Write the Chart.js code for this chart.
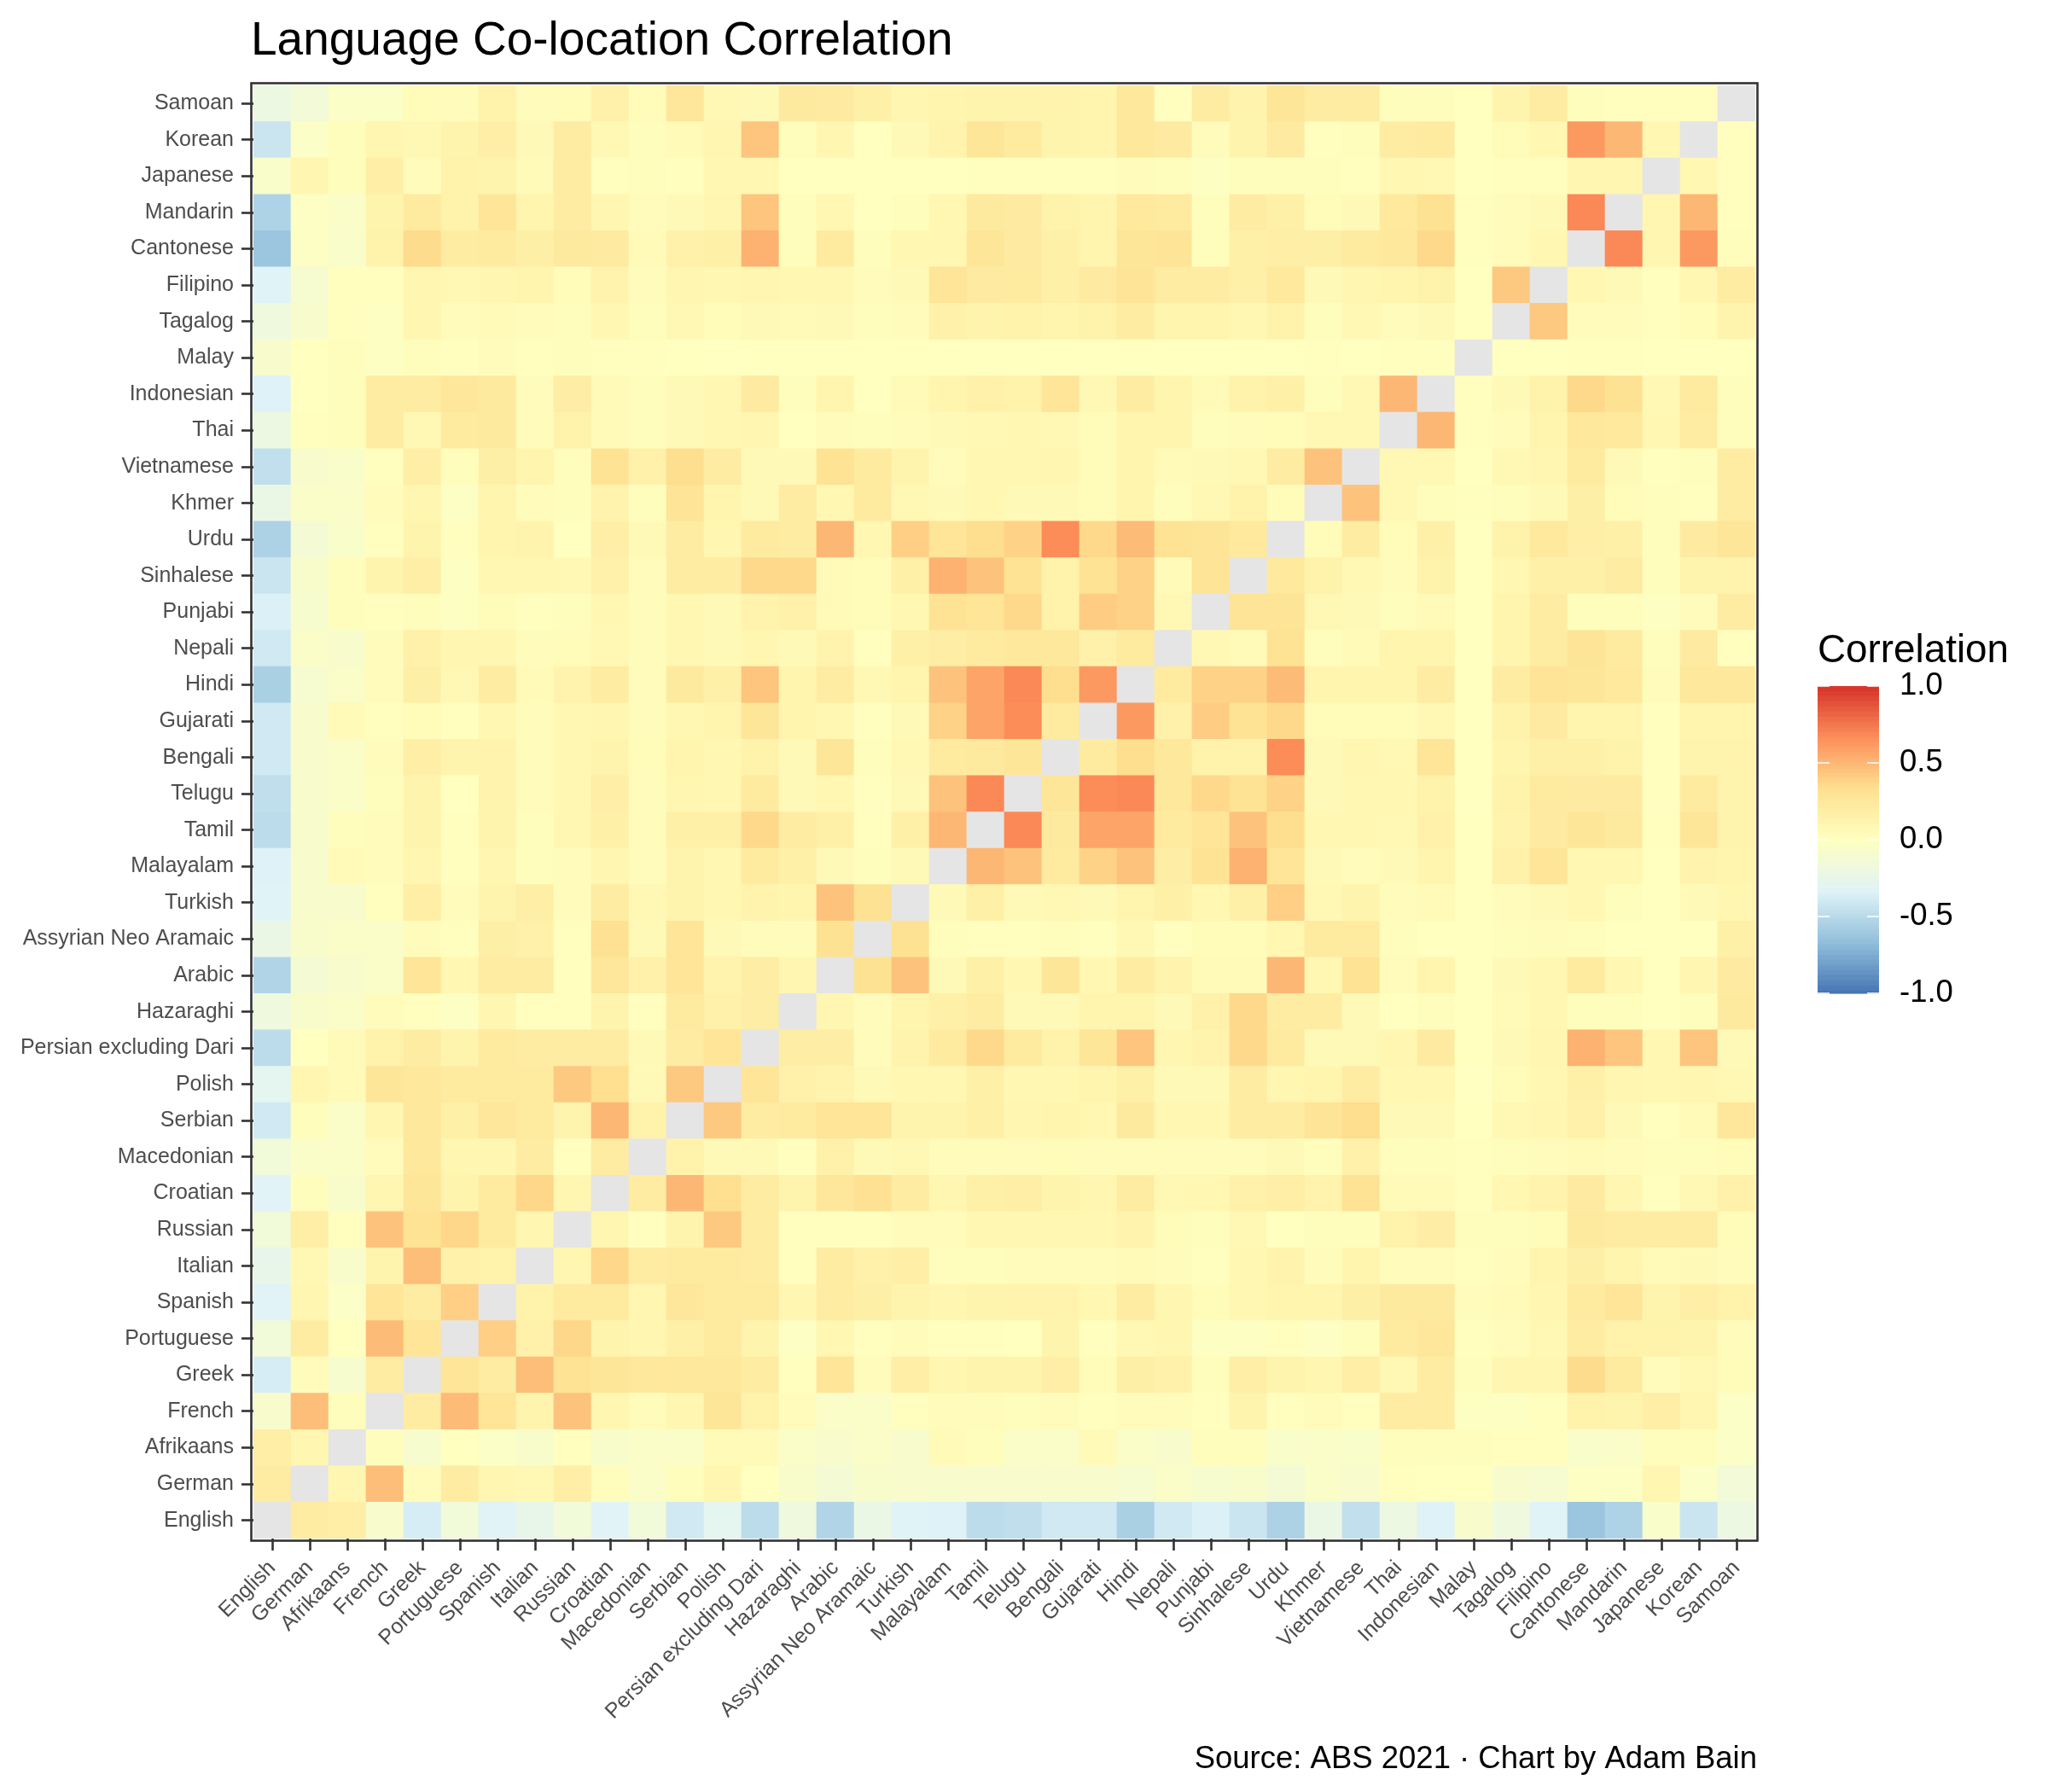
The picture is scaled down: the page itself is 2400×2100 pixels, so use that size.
<!DOCTYPE html>
<html>
<head>
<meta charset="utf-8">
<script src="https://cdn.jsdelivr.net/npm/chart.js@4.4.1/dist/chart.umd.min.js"></script>
<style>
  html, body { margin: 0; padding: 0; background: #ffffff; }
  #wrap { width: 2400px; height: 2100px; position: relative; }
</style>
</head>
<body>
<div id="wrap"><canvas id="chart" width="2400" height="2100"></canvas></div>
<script>
// ---------- categories ----------
const languages = ["English","German","Afrikaans","French","Greek","Portuguese","Spanish","Italian","Russian","Croatian",
  "Macedonian","Serbian","Polish","Persian excluding Dari","Hazaraghi","Arabic","Assyrian Neo Aramaic","Turkish","Malayalam","Tamil",
  "Telugu","Bengali","Gujarati","Hindi","Nepali","Punjabi","Sinhalese","Urdu","Khmer","Vietnamese",
  "Thai","Indonesian","Malay","Tagalog","Filipino","Cantonese","Mandarin","Japanese","Korean","Samoan"];

// ---------- correlations: each array = r(language, every later language in the list) ----------
const rEnglish = [0.2,0.18,-0.08,-0.37,-0.15,-0.32,-0.25,-0.15,-0.32,-0.15,-0.4,-0.28,-0.48,-0.18,-0.53,-0.22,-0.33,-0.34,-0.48,-0.47,-0.4,-0.4,-0.56,-0.4,-0.35,-0.42,-0.55,-0.22,-0.46,-0.2,-0.34,-0.08,-0.18,-0.33,-0.62,-0.54,-0.06,-0.42,-0.2];
const rGerman = [0.1,0.47,0.03,0.2,0.1,0.08,0.18,0.02,-0.05,0.02,0.1,0.0,-0.07,-0.12,-0.07,-0.08,-0.08,-0.08,-0.08,-0.08,-0.08,-0.1,-0.05,-0.09,-0.07,-0.12,-0.05,-0.08,0.01,0.0,0.0,-0.08,-0.1,-0.03,-0.03,0.1,-0.04,-0.14];
const rAfrikaans = [0.02,-0.09,0.0,-0.04,-0.07,0.01,-0.07,-0.05,-0.05,0.05,0.05,-0.05,-0.08,-0.05,-0.08,0.05,0.02,-0.05,-0.05,0.05,-0.05,-0.08,0.02,0.02,-0.06,-0.05,-0.06,0.02,0.02,0.02,0.01,0.01,-0.06,-0.05,0.02,0.02,-0.04];
const rFrench = [0.2,0.48,0.28,0.12,0.45,0.1,0.03,0.1,0.27,0.14,0.03,-0.05,-0.05,0.01,0.03,0.03,0.02,0.03,0.01,0.03,0.03,0.01,0.12,0.01,0.03,0.01,0.2,0.2,-0.02,-0.02,0.01,0.14,0.12,0.18,0.1,-0.04];
const rGreek = [0.28,0.2,0.47,0.3,0.27,0.25,0.25,0.25,0.2,0.01,0.28,0.03,0.18,0.1,0.12,0.12,0.18,0.04,0.17,0.15,0.02,0.18,0.12,0.1,0.18,0.08,0.2,0.02,0.1,0.1,0.35,0.22,0.03,0.08,0.04];
const rPortuguese = [0.4,0.15,0.37,0.12,0.1,0.16,0.22,0.12,-0.03,0.09,0.01,0.03,0.01,0.01,0.0,0.12,0.01,0.07,0.1,-0.02,-0.02,0.01,-0.03,0.02,0.22,0.26,0.01,0.03,0.07,0.2,0.14,0.14,0.12,0.03];
const rSpanish = [0.14,0.22,0.22,0.1,0.26,0.22,0.22,0.1,0.2,0.17,0.12,0.1,0.12,0.13,0.13,0.09,0.2,0.1,0.04,0.09,0.11,0.11,0.17,0.23,0.23,0.03,0.05,0.1,0.22,0.28,0.12,0.18,0.14];
const rItalian = [0.1,0.37,0.2,0.22,0.22,0.2,0.01,0.2,0.15,0.18,0.02,0.02,0.03,0.03,0.03,0.05,0.03,0.01,0.09,0.13,0.03,0.11,0.03,0.03,0.01,0.03,0.11,0.17,0.11,0.05,0.06,0.03];
const rRussian = [0.1,0.01,0.12,0.43,0.2,0.01,0.01,0.01,0.03,0.03,0.09,0.09,0.09,0.09,0.13,0.04,0.02,0.07,0.0,0.02,0.02,0.14,0.19,0.02,0.02,0.04,0.23,0.2,0.2,0.2,0.04];
const rCroatian = [0.2,0.5,0.33,0.2,0.12,0.26,0.32,0.2,0.1,0.16,0.18,0.12,0.1,0.2,0.08,0.09,0.15,0.18,0.13,0.3,0.05,0.05,0.01,0.09,0.13,0.21,0.1,0.01,0.07,0.15];
const rMacedonian = [0.14,0.06,0.06,0.01,0.15,0.06,0.08,0.03,0.03,0.03,0.04,0.03,0.03,0.03,0.03,0.03,0.06,0.02,0.15,0.02,0.02,0.01,0.02,0.03,0.05,0.03,0.02,0.02,0.04];
const rSerbian = [0.43,0.2,0.22,0.28,0.28,0.12,0.12,0.16,0.1,0.11,0.09,0.23,0.09,0.09,0.2,0.2,0.29,0.34,0.06,0.06,0.0,0.07,0.1,0.15,0.06,0.01,0.05,0.26];
const rPolish = [0.28,0.15,0.13,0.06,0.09,0.09,0.16,0.09,0.09,0.11,0.16,0.06,0.06,0.2,0.1,0.11,0.2,0.09,0.09,-0.01,0.04,0.09,0.16,0.1,0.09,0.1,0.07];
const rPersian = [0.19,0.19,0.03,0.13,0.22,0.36,0.22,0.14,0.27,0.44,0.1,0.13,0.36,0.22,0.06,0.06,0.1,0.21,0.0,0.06,0.1,0.52,0.44,0.09,0.44,0.06];
const rHazaraghi = [0.1,0.03,0.11,0.16,0.2,0.06,0.06,0.11,0.11,0.06,0.15,0.36,0.2,0.2,0.06,0.0,0.02,0.0,0.05,0.09,0.02,0.02,0.0,0.02,0.23];
const rArabic = [0.31,0.45,0.06,0.16,0.09,0.27,0.09,0.2,0.13,0.05,0.05,0.5,0.09,0.3,0.03,0.11,0.0,0.06,0.09,0.22,0.09,0.0,0.1,0.21];
const rAssyrian = [0.31,0.02,0.01,0.01,0.02,0.01,0.08,0.01,0.04,0.04,0.09,0.22,0.22,0.02,0.0,0.0,0.02,0.03,0.02,0.0,0.0,0.0,0.16];
const rTurkish = [0.06,0.16,0.06,0.08,0.06,0.11,0.16,0.09,0.16,0.4,0.07,0.12,0.03,0.05,0.0,0.03,0.06,0.09,0.02,0.0,0.06,0.1];
const rMalayalam = [0.5,0.45,0.22,0.39,0.45,0.19,0.3,0.52,0.28,0.06,0.03,0.06,0.11,0.0,0.15,0.28,0.09,0.09,0.0,0.13,0.11];
const rTamil = [0.68,0.23,0.57,0.57,0.22,0.28,0.45,0.34,0.09,0.09,0.07,0.15,0.0,0.13,0.21,0.27,0.23,0.01,0.27,0.12];
const rTelugu = [0.27,0.67,0.68,0.25,0.36,0.3,0.39,0.06,0.09,0.09,0.14,0.0,0.14,0.22,0.21,0.21,0.01,0.22,0.12];
const rBengali = [0.22,0.34,0.25,0.14,0.14,0.67,0.06,0.1,0.08,0.28,0.0,0.11,0.16,0.16,0.14,0.01,0.12,0.13];
const rGujarati = [0.62,0.15,0.41,0.3,0.36,0.04,0.04,0.04,0.08,0.0,0.14,0.21,0.11,0.11,0.01,0.11,0.11];
const rHindi = [0.22,0.39,0.39,0.48,0.11,0.11,0.11,0.2,0.0,0.2,0.29,0.27,0.24,0.03,0.25,0.25];
const rNepali = [0.07,0.05,0.3,0.02,0.05,0.11,0.11,0.0,0.11,0.2,0.29,0.22,0.02,0.21,0.01];
const rPunjabi = [0.29,0.29,0.07,0.06,0.02,0.05,0.0,0.11,0.2,0.02,0.02,-0.02,0.03,0.2];
const rSinhalese = [0.24,0.14,0.07,0.03,0.14,0.0,0.09,0.16,0.16,0.2,0.02,0.12,0.13];
const rUrdu = [0.04,0.2,0.04,0.16,0.0,0.14,0.24,0.18,0.16,0.02,0.21,0.27];
const rKhmer = [0.45,0.08,0.02,0.01,0.02,0.06,0.17,0.04,0.02,0.01,0.2];
const rVietnamese = [0.08,0.08,0.0,0.08,0.1,0.22,0.06,0.01,0.02,0.2];
const rThai = [0.5,0.01,0.03,0.11,0.25,0.24,0.09,0.2,0.02];
const rIndonesian = [0.01,0.06,0.14,0.36,0.31,0.08,0.22,0.02];
const rMalay = [0.0,0.0,0.01,0.01,0.0,0.0,0.0];
const rTagalog = [0.43,0.03,0.03,0.01,0.04,0.12];
const rFilipino = [0.09,0.06,0.01,0.09,0.2];
const rCantonese = [0.68,0.1,0.62,0.02];
const rMandarin = [0.1,0.5,0.01];
const rJapanese = [0.09,0.01];
const rKorean = [0.01];

const upperRows = [rEnglish,rGerman,rAfrikaans,rFrench,rGreek,rPortuguese,rSpanish,rItalian,rRussian,rCroatian,
  rMacedonian,rSerbian,rPolish,rPersian,rHazaraghi,rArabic,rAssyrian,rTurkish,rMalayalam,rTamil,
  rTelugu,rBengali,rGujarati,rHindi,rNepali,rPunjabi,rSinhalese,rUrdu,rKhmer,rVietnamese,
  rThai,rIndonesian,rMalay,rTagalog,rFilipino,rCantonese,rMandarin,rJapanese,rKorean];

// ---------- colour scale ----------
const paletteStops = [-1, -2/3, -1/3, 0, 1/3, 2/3, 1];
const paletteColors = ["#4575B4","#91BFDB","#E0F3F8","#FFFFBF","#FEE090","#FC8D59","#D73027"];
const legendTicks = [1.0, 0.5, 0.0, -0.5, -1.0];
const naColor = "#E5E5E5";

function hexRgb(h) { return [1,3,5].map(k => parseInt(h.substr(k, 2), 16)); }
const paletteRgb = paletteColors.map(hexRgb);
function corrColor(v) {
  if (v === null || v === undefined) return naColor;
  const t = Math.max(-1, Math.min(1, v));
  let s = 0;
  while (s < paletteStops.length - 2 && t > paletteStops[s + 1]) s++;
  const f = (t - paletteStops[s]) / (paletteStops[s + 1] - paletteStops[s]);
  const a = paletteRgb[s], b = paletteRgb[s + 1];
  const c = a.map((x, k) => Math.round(x + (b[k] - x) * f));
  return `rgb(${c[0]},${c[1]},${c[2]})`;
}

// ---------- full symmetric matrix ----------
const n = languages.length;
const matrix = languages.map(() => new Array(n).fill(null));
upperRows.forEach((row, i) => row.forEach((v, k) => {
  const j = i + 1 + k;
  matrix[i][j] = v;
  matrix[j][i] = v;
}));

const FONT = "'Liberation Sans', Arial, Helvetica, sans-serif";

const datasets = languages.map((lang, r) => ({
  label: lang,
  data: languages.map(() => 1),
  backgroundColor: (ctx) => corrColor(matrix[r][ctx.dataIndex]),
  borderWidth: 0,
  barPercentage: 1,
  categoryPercentage: 1
}));

const decor = {
  id: 'decor',
  afterDraw(chart) {
    const c = chart.ctx, a = chart.chartArea;
    c.save();
    // panel border
    c.strokeStyle = '#333333';
    c.lineWidth = 2.6;
    c.strokeRect(a.left - 2.5, a.top - 2.5, a.right - a.left + 5, a.bottom - a.top + 5);
    // title
    c.fillStyle = '#000000';
    c.font = `55px ${FONT}`;
    c.textAlign = 'left';
    c.textBaseline = 'alphabetic';
    c.fillText('Language Co-location Correlation', a.left - 3, 64);
    // caption
    c.font = `36.5px ${FONT}`;
    c.textAlign = 'right';
    c.fillText('Source: ABS 2021 \u00B7 Chart by Adam Bain', a.right + 2, 2072);
    // legend
    const lx = 2130, lw = 72, yMid = 984, half = 180;
    const yOf = v => yMid - v * half;
    c.font = `45.8px ${FONT}`;
    c.textAlign = 'left';
    c.fillText('Correlation', lx, 776);
    const steps = 300;
    for (let k = 0; k < steps; k++) {
      const v0 = 1 - 2 * k / steps, v1 = 1 - 2 * (k + 1) / steps;
      c.fillStyle = corrColor((v0 + v1) / 2);
      c.fillRect(lx, yOf(v0), lw, yOf(v1) - yOf(v0) + 0.6);
    }
    c.strokeStyle = '#ffffff';
    c.lineWidth = 1.5;
    c.font = `36.5px ${FONT}`;
    c.textBaseline = 'middle';
    c.fillStyle = '#000000';
    legendTicks.forEach(v => {
      const y = yOf(v);
      c.beginPath();
      c.moveTo(lx, y); c.lineTo(lx + 14, y);
      c.moveTo(lx + lw - 14, y); c.lineTo(lx + lw, y);
      c.stroke();
      c.fillText(v.toFixed(1), lx + lw + 24, y);
    });
    c.restore();
  }
};

const axisGrid = { display: true, drawOnChartArea: false, drawTicks: true, tickLength: 14, tickWidth: 2.6, tickColor: '#333333', offset: false };

new Chart(document.getElementById('chart'), {
  type: 'bar',
  data: { labels: languages, datasets },
  options: {
    responsive: false,
    animation: false,
    devicePixelRatio: 1,
    events: [],
    layout: { padding: { left: 0, top: 100, right: 343, bottom: 0 } },
    plugins: { legend: { display: false }, tooltip: { enabled: false }, title: { display: false } },
    scales: {
      x: {
        stacked: true,
        offset: true,
        grid: axisGrid,
        border: { display: false },
        ticks: { autoSkip: false, maxRotation: 45, minRotation: 45, padding: 6, color: '#4D4D4D', font: { family: FONT, size: 25 } },
        afterFit: (s) => { s.height = 2100 - 1803; }
      },
      y: {
        stacked: true,
        min: 0,
        max: n,
        grid: axisGrid,
        border: { display: false },
        afterBuildTicks: (axis) => { axis.ticks = languages.map((_, i) => ({ value: i + 0.5 })); },
        ticks: { autoSkip: false, padding: 9, color: '#4D4D4D', font: { family: FONT, size: 25 },
                 callback: (value, index) => languages[index] },
        afterFit: (s) => { s.width = 297; }
      }
    }
  },
  plugins: [decor]
});
</script>
</body>
</html>
